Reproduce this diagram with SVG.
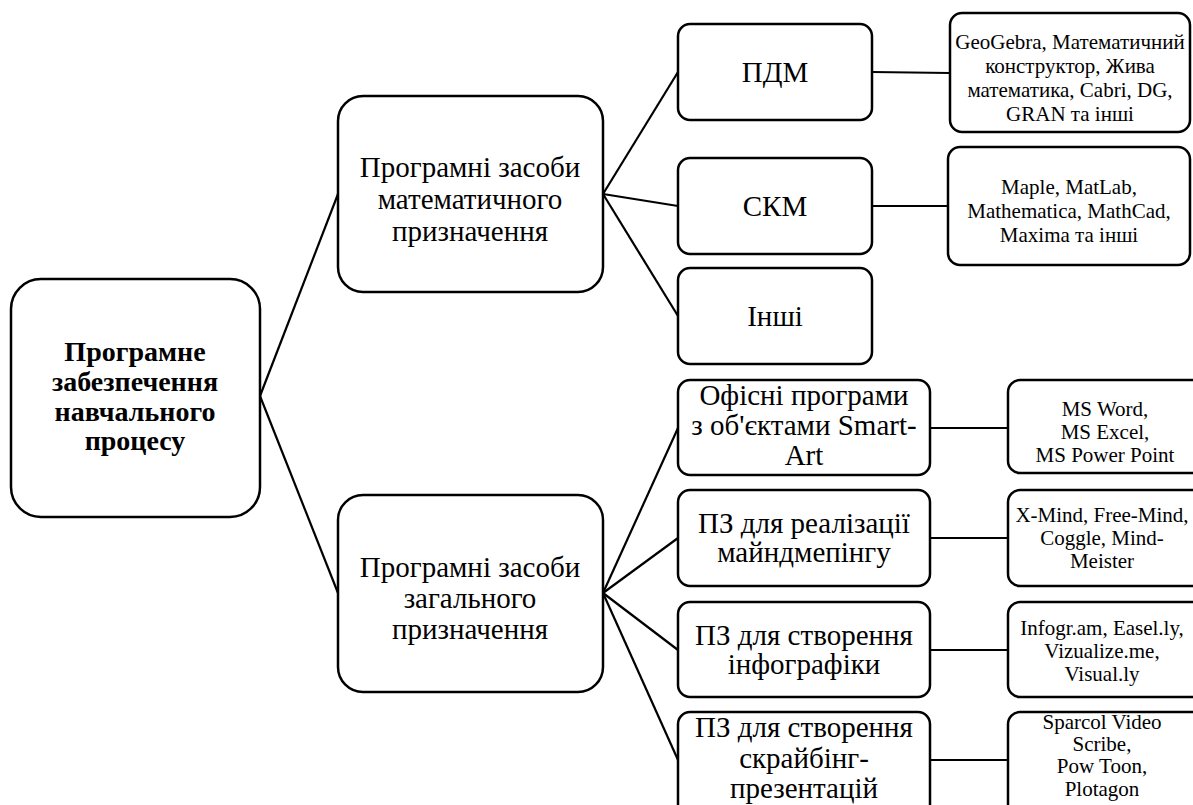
<svg xmlns="http://www.w3.org/2000/svg" width="1193" height="805" viewBox="0 0 1193 805">
<style>
.box{fill:#fff;stroke:#000;stroke-width:2.5}
.con line{stroke:#000;stroke-width:2.2}
text{font-family:"Liberation Serif","Times New Roman",serif;fill:#000;text-anchor:middle}
.root{font-size:28px;font-weight:bold}
.mid{font-size:29px}
.l2{font-size:29px}
.leaf{font-size:21px}
</style>
<rect width="1193" height="805" fill="#fff"/>
<g class="con">
<line x1="260" y1="396" x2="338" y2="194"/>
<line x1="260" y1="396" x2="338" y2="593"/>
<line x1="603" y1="194" x2="678" y2="72"/>
<line x1="603" y1="194" x2="678" y2="206"/>
<line x1="603" y1="194" x2="678" y2="316"/>
<line x1="603" y1="593" x2="678" y2="428"/>
<line x1="603" y1="593" x2="678" y2="538"/>
<line x1="603" y1="593" x2="678" y2="650"/>
<line x1="603" y1="593" x2="678" y2="760"/>
<line x1="872" y1="72" x2="950" y2="73"/>
<line x1="872" y1="206" x2="948" y2="206"/>
<line x1="930" y1="428" x2="1008" y2="428"/>
<line x1="930" y1="538" x2="1008" y2="538"/>
<line x1="930" y1="650" x2="1008" y2="650"/>
<line x1="930" y1="760" x2="1008" y2="760"/>
</g>
<g id="root"><rect class="box" x="11" y="279" width="249" height="238" rx="30"/>
<text class="root"><tspan x="135" y="361">Програмне</tspan><tspan x="135" y="391">забезпечення</tspan><tspan x="135" y="421">навчального</tspan><tspan x="135" y="450">процесу</tspan></text></g>
<g id="mid1"><rect class="box" x="338" y="96" width="265" height="196" rx="25"/>
<text class="mid"><tspan x="470" y="177">Програмні засоби</tspan><tspan x="470" y="209">математичного</tspan><tspan x="470" y="241">призначення</tspan></text></g>
<g id="mid2"><rect class="box" x="338" y="495" width="265" height="197" rx="25"/>
<text class="mid"><tspan x="470" y="577">Програмні засоби</tspan><tspan x="470" y="608">загального</tspan><tspan x="470" y="639">призначення</tspan></text></g>
<g id="pdm"><rect class="box" x="678" y="24" width="194" height="96" rx="12"/>
<text class="l2" x="775" y="82">ПДМ</text></g>
<g id="skm"><rect class="box" x="678" y="158" width="194" height="96" rx="12"/>
<text class="l2" x="775" y="216">СКМ</text></g>
<g id="inshi"><rect class="box" x="678" y="268" width="194" height="96" rx="12"/>
<text class="l2" x="775" y="326">Інші</text></g>
<g id="office"><rect class="box" x="678" y="380" width="252" height="95" rx="12"/>
<text class="l2"><tspan x="804" y="405">Офісні програми</tspan><tspan x="804" y="435">з об'єктами Smart-</tspan><tspan x="804" y="465">Art</tspan></text></g>
<g id="mind"><rect class="box" x="678" y="490" width="252" height="96" rx="12"/>
<text class="l2"><tspan x="804" y="533">ПЗ для реалізації</tspan><tspan x="804" y="562">майндмепінгу</tspan></text></g>
<g id="info"><rect class="box" x="678" y="602" width="252" height="95" rx="12"/>
<text class="l2"><tspan x="804" y="645">ПЗ для створення</tspan><tspan x="804" y="674">інфографіки</tspan></text></g>
<g id="scribe"><rect class="box" x="678" y="712" width="252" height="110" rx="12"/>
<text class="l2"><tspan x="804" y="737">ПЗ для створення</tspan><tspan x="804" y="768">скрайбінг-</tspan><tspan x="804" y="798">презентацій</tspan></text></g>
<g id="leaf1"><rect class="box" x="950" y="13" width="240" height="119" rx="12"/>
<text class="leaf"><tspan x="1070" y="49">GeoGebra, Математичний</tspan><tspan x="1070" y="73">конструктор, Жива</tspan><tspan x="1070" y="97">математика, Cabri,  DG,</tspan><tspan x="1070" y="121">GRAN та інші</tspan></text></g>
<g id="leaf2"><rect class="box" x="948" y="147" width="242" height="118" rx="12"/>
<text class="leaf"><tspan x="1069" y="194">Maple, MatLab,</tspan><tspan x="1069" y="218">Mathematica, MathCad,</tspan><tspan x="1069" y="242">Maxima та інші</tspan></text></g>
<g id="leaf3"><rect class="box" x="1008" y="380" width="200" height="93" rx="12"/>
<text class="leaf"><tspan x="1105" y="416">MS Word,</tspan><tspan x="1105" y="439">MS Excel,</tspan><tspan x="1105" y="462">MS Power Point</tspan></text></g>
<g id="leaf4"><rect class="box" x="1008" y="490" width="200" height="96" rx="12"/>
<text class="leaf"><tspan x="1102" y="522">X-Mind, Free-Mind,</tspan><tspan x="1102" y="545">Coggle, Mind-</tspan><tspan x="1102" y="568">Meister</tspan></text></g>
<g id="leaf5"><rect class="box" x="1008" y="602" width="200" height="95" rx="12"/>
<text class="leaf"><tspan x="1102" y="635">Infogr.am, Easel.ly,</tspan><tspan x="1102" y="658">Vizualize.me,</tspan><tspan x="1102" y="681">Visual.ly</tspan></text></g>
<g id="leaf6"><rect class="box" x="1008" y="712" width="200" height="110" rx="12"/>
<text class="leaf"><tspan x="1102" y="729">Sparcol Video</tspan><tspan x="1102" y="751">Scribe,</tspan><tspan x="1102" y="773">Pow Toon,</tspan><tspan x="1102" y="796">Plotagon</tspan></text></g>
</svg>
